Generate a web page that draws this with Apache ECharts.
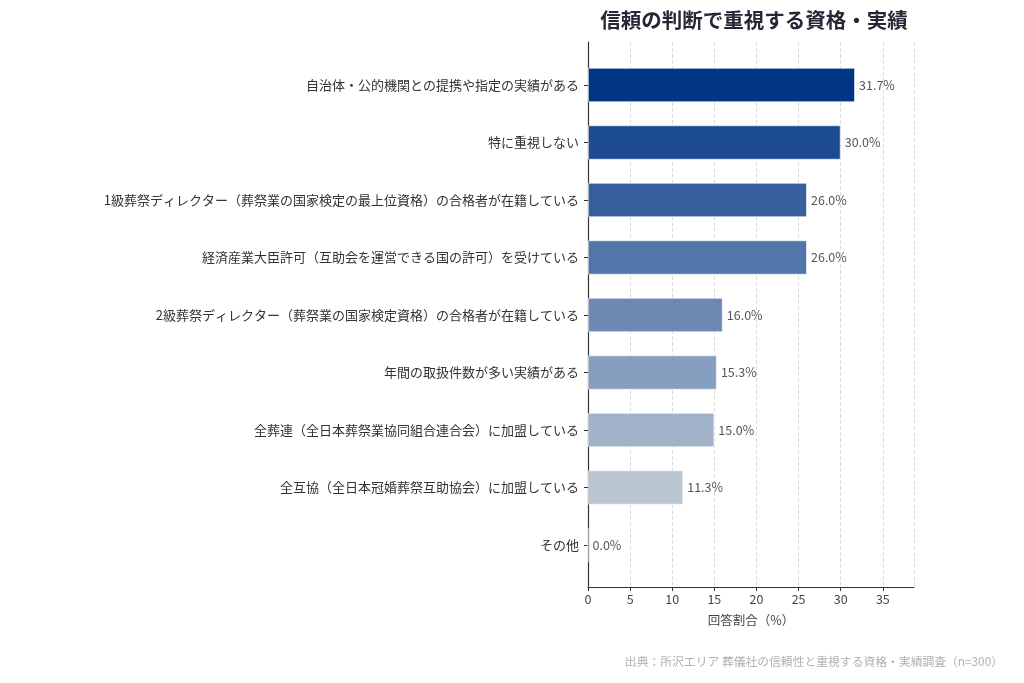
<!DOCTYPE html>
<html>
<head>
<meta charset="utf-8">
<script src="https://cdn.jsdelivr.net/npm/echarts@6/dist/echarts.min.js"></script>
<style>
html, body { margin: 0; padding: 0; background: #fff; }
#chart { width: 1024px; height: 683px; }
</style>
</head>
<body>
<div id="chart"></div>
<script>
var categories = [
    '自治体・公的機関との提携や指定の実績がある',
    '特に重視しない',
    '1級葬祭ディレクター（葬祭業の国家検定の最上位資格）の合格者が在籍している',
    '経済産業大臣許可（互助会を運営できる国の許可）を受けている',
    '2級葬祭ディレクター（葬祭業の国家検定資格）の合格者が在籍している',
    '年間の取扱件数が多い実績がある',
    '全葬連（全日本葬祭業協同組合連合会）に加盟している',
    '全互協（全日本冠婚葬祭互助協会）に加盟している',
    'その他'
];
var values = [31.7, 30.0, 26.0, 26.0, 16.0, 15.3, 15.0, 11.3, 0.0];
var barColors = ['#003684', '#1c4b8f', '#365f9d', '#5276a9', '#6b89b2', '#869fc0', '#a1b2c8', '#b9c6d2', '#cfd6de'];

var font = '"Noto Sans CJK JP", "Noto Sans", sans-serif';

// 棒データ
var barData = [];
for (var i = 0; i < values.length; i++) {
    barData.push({ value: values[i], itemStyle: { color: barColors[i] } });
}

var myChart = echarts.init(document.getElementById('chart'));
var option = {
    backgroundColor: '#fff',
    textStyle: { fontFamily: font },
    title: [{
        text: '信頼の判断で重視する資格・実績',
        left: 749,
        top: 5,
        textAlign: 'center',
        textStyle: { fontSize: 20.5, fontWeight: 'bold', color: '#262637', fontFamily: font }
    }, {
        text: '出典：所沢エリア 葬儀社の信頼性と重視する資格・実績調査（n=300）',
        right: 16,
        top: 651,
        textStyle: { fontSize: 11.8, fontWeight: 'normal', color: '#b0b0b0', fontFamily: font }
    }],
    grid: [
        // 軸・グリッド線用
        { left: 588, right: 110, top: 42, bottom: 96 },
        // 棒用
        { left: 588, right: 110, top: 56.25, bottom: 109.25 }
    ],
    xAxis: [{
        gridIndex: 0,
        type: 'value',
        min: 0,
        max: 38.7,
        interval: 5,
        name: '回答割合（%）',
        nameLocation: 'middle',
        nameGap: 27,
        nameTextStyle: { fontSize: 12.5, color: '#444' },
        axisLine: { show: true, lineStyle: { color: '#333', width: 1.2 } },
        axisTick: { show: true, length: 4, lineStyle: { color: '#333' } },
        axisLabel: { fontSize: 12.5, color: '#444', margin: 6, showMaxLabel: false },
        splitLine: { show: true, lineStyle: { type: 'dashed', color: '#dddddd' } }
    }, {
        gridIndex: 1,
        type: 'value',
        min: 0,
        max: 38.7,
        show: false
    }],
    yAxis: [{
        gridIndex: 0,
        type: 'value',
        min: 0,
        max: 1,
        axisLine: { show: true, lineStyle: { color: '#333', width: 1.2 } },
        axisTick: { show: false },
        axisLabel: { show: false },
        splitLine: { show: false }
    }, {
        gridIndex: 1,
        type: 'category',
        inverse: true,
        data: categories,
        axisLine: { show: false },
        axisTick: { show: true, alignWithLabel: true, length: 4, lineStyle: { color: '#333' } },
        axisLabel: { fontSize: 13, color: '#333', margin: 9 },
        splitLine: { show: false }
    }],
    series: [{
        type: 'bar',
        xAxisIndex: 1,
        yAxisIndex: 1,
        data: barData,
        barWidth: '60%',
        itemStyle: { borderColor: 'rgba(255,255,255,0.6)', borderWidth: 1 },
        label: {
            show: true,
            position: 'right',
            distance: 4,
            fontSize: 12.5,
            color: '#555',
            formatter: function (p) { return p.value.toFixed(1) + '%'; }
        },
        animation: false
    }]
};
myChart.setOption(option);
</script>
</body>
</html>
